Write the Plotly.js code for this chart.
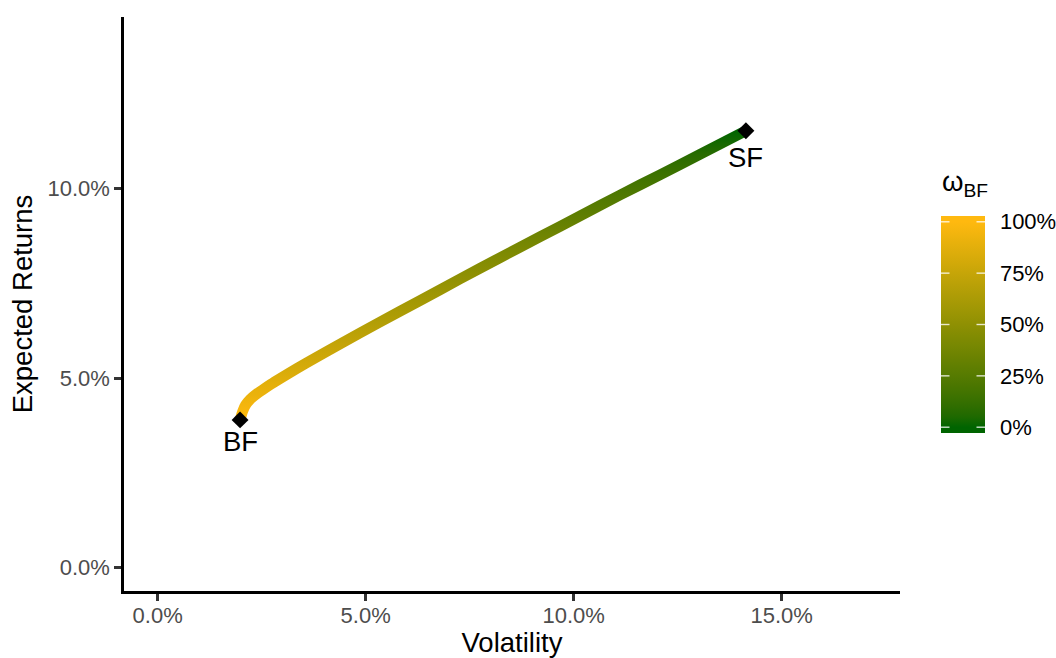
<!DOCTYPE html>
<html>
<head>
<meta charset="utf-8">
<script src="https://cdn.plot.ly/plotly-3.0.1.min.js"></script>
<style>
  html, body { margin: 0; padding: 0; background: #ffffff; }
  #chart { width: 1056px; height: 658px; }
</style>
</head>
<body>
<div id="chart"></div>
<script>
// Two-fund frontier: portfolios mixing the bond fund (BF) and the stock fund (SF)
const volatility     = [1.98, 2.04, 2.11, 2.22, 2.36, 2.53, 2.72, 2.94, 3.35, 3.78, 4.38,
                        5.34, 6.31, 7.27, 8.23, 9.19, 10.15, 11.11, 12.08, 13.04, 14.14]; // %
const expectedReturn = [3.90, 4.12, 4.29, 4.44, 4.57, 4.70, 4.84, 4.99, 5.26, 5.53, 5.90,
                        6.48, 7.05, 7.62, 8.18, 8.73, 9.28, 9.83, 10.37, 10.91, 11.53]; // %
const weightBF       = [1.00, 0.97, 0.95, 0.93, 0.91, 0.90, 0.88, 0.86, 0.82, 0.79, 0.74,
                        0.66, 0.59, 0.51, 0.44, 0.37, 0.29, 0.22, 0.15, 0.08, 0.00];

// The two funds themselves
const assets          = ['BF', 'SF'];
const assetVolatility = [1.98, 14.14];
const assetReturn     = [3.90, 11.53];

const xTickVals = [0, 5, 10, 15];
const yTickVals = [0, 5, 10];
const weightTickVals = [0, 0.25, 0.5, 0.75, 1];
const pct1 = v => v.toFixed(1) + '%';

// Colour ramp for the BF weight: dark green (0%) to golden orange (100%), blended in CIELAB
const LOW_RGB = [0, 100, 0];
const HIGH_RGB = [255, 185, 15];

function toLinear(c) { c /= 255; return c <= 0.04045 ? c / 12.92 : Math.pow((c + 0.055) / 1.055, 2.4); }
function fromLinear(c) {
  const v = c <= 0.0031308 ? 12.92 * c : 1.055 * Math.pow(c, 1 / 2.4) - 0.055;
  return Math.max(0, Math.min(255, Math.round(v * 255)));
}
const WN = [0.95047, 1.0, 1.08883];
function rgbToLab(rgb) {
  const [r, g, b] = rgb.map(toLinear);
  const xyz = [0.4124 * r + 0.3576 * g + 0.1805 * b,
               0.2126 * r + 0.7152 * g + 0.0722 * b,
               0.0193 * r + 0.1192 * g + 0.9505 * b];
  const f = xyz.map((t, i) => { t /= WN[i]; return t > 0.008856 ? Math.cbrt(t) : 7.787 * t + 16 / 116; });
  return [116 * f[1] - 16, 500 * (f[0] - f[1]), 200 * (f[1] - f[2])];
}
function labToRgb(lab) {
  const fy = (lab[0] + 16) / 116, fx = fy + lab[1] / 500, fz = fy - lab[2] / 200;
  const inv = t => (t * t * t > 0.008856 ? t * t * t : (t - 16 / 116) / 7.787);
  const X = inv(fx) * WN[0], Y = inv(fy) * WN[1], Z = inv(fz) * WN[2];
  const r = 3.2406 * X - 1.5372 * Y - 0.4986 * Z;
  const g = -0.9689 * X + 1.8758 * Y + 0.0415 * Z;
  const b = 0.0557 * X - 0.2040 * Y + 1.0570 * Z;
  return [fromLinear(r), fromLinear(g), fromLinear(b)];
}
const LOW_LAB = rgbToLab(LOW_RGB), HIGH_LAB = rgbToLab(HIGH_RGB);
function weightColor(w) {
  const t = Math.max(0, Math.min(1, w));
  const lab = LOW_LAB.map((v, i) => v + (HIGH_LAB[i] - v) * t);
  const c = labToRgb(lab);
  return 'rgb(' + c[0] + ',' + c[1] + ',' + c[2] + ')';
}

// Colour bar runs slightly past 0% and 100%, as the guide does
const CB_MIN = -0.0282, CB_MAX = 1.0282;
const cbPos = v => (v - CB_MIN) / (CB_MAX - CB_MIN);
const colorscale = [[0, weightColor(0)]];
for (let k = 0; k <= 20; k++) colorscale.push([cbPos(k / 20), weightColor(k / 20)]);
colorscale.push([1, weightColor(1)]);

// Page geometry (pixels)
const W = 1056, H = 658;
const M = { l: 124, r: 156, t: 17, b: 67 };
const CB = { left: 941, width: 44, top: 216, len: 217 };
const toPaperX = px => (px - M.l) / (W - M.l - M.r);
const toPaperY = py => (H - M.b - py) / (H - M.t - M.b);

const FONT = 'Liberation Sans, Arial, Helvetica, sans-serif';

const frontier = {
  type: 'scatter', mode: 'lines',
  x: volatility, y: expectedReturn,
  line: { width: 10.7, color: weightColor(0.5), shape: 'spline', smoothing: 0.6 },
  hoverinfo: 'skip', showlegend: false
};

const weightScale = {
  type: 'scatter', mode: 'markers',
  x: volatility, y: expectedReturn,
  marker: {
    size: 1, opacity: 0,
    color: weightBF, cmin: CB_MIN, cmax: CB_MAX, colorscale: colorscale,
    showscale: true,
    colorbar: {
      thickness: CB.width, thicknessmode: 'pixels',
      len: CB.len, lenmode: 'pixels',
      xref: 'container', x: CB.left / W, xanchor: 'left',
      yref: 'paper', y: toPaperY(CB.top + CB.len / 2), yanchor: 'middle',
      xpad: 0, ypad: 0,
      outlinewidth: 0,
      ticks: 'outside', ticklen: 11, tickwidth: 1, tickcolor: 'rgba(255,255,255,0)',
      tickvals: weightTickVals, ticktext: weightTickVals.map(v => Math.round(v * 100) + '%'),
      tickfont: { family: FONT, size: 22, color: '#000000' }
    }
  },
  hoverinfo: 'skip', showlegend: false
};

const fundPoints = {
  type: 'scatter', mode: 'markers',
  x: assetVolatility, y: assetReturn,
  marker: { symbol: 'diamond', size: 13, color: '#000000', line: { width: 0 } },
  hoverinfo: 'skip', showlegend: false
};

const labelShift = [-22, -27];
const annotations = assets.map((name, i) => ({
  x: assetVolatility[i], y: assetReturn[i], text: name,
  showarrow: false, xanchor: 'center', yanchor: 'middle', yshift: labelShift[i],
  font: { family: FONT, size: 27.5, color: '#000000' }
}));
// Legend title for the weight colour bar
annotations.push({
  xref: 'paper', yref: 'paper',
  x: toPaperX(CB.left - 1), y: toPaperY(CB.top - 13),
  xanchor: 'left', yanchor: 'bottom', showarrow: false,
  text: 'ω<sub>BF</sub>',
  font: { family: FONT, size: 27.5, color: '#000000' }
});

const axisCommon = {
  showgrid: false, zeroline: false,
  showline: true, linecolor: '#000000', linewidth: 2.7,
  ticks: 'outside', ticklen: 7, tickwidth: 2.7, tickcolor: '#333333',
  tickfont: { family: FONT, size: 22, color: '#4D4D4D' },
  automargin: false
};

const layout = {
  width: W, height: H,
  paper_bgcolor: '#ffffff', plot_bgcolor: '#ffffff',
  margin: M,
  font: { family: FONT },
  showlegend: false,
  xaxis: Object.assign({}, axisCommon, {
    range: [-0.81, 17.844],
    tickvals: xTickVals, ticktext: xTickVals.map(pct1),
    ticklabelstandoff: -4,
    title: { text: 'Volatility', standoff: 15, font: { family: FONT, size: 27.5, color: '#000000' } }
  }),
  yaxis: Object.assign({}, axisCommon, {
    range: [-0.615, 14.53],
    tickvals: yTickVals, ticktext: yTickVals.map(pct1),
    title: { text: 'Expected Returns', standoff: 7, font: { family: FONT, size: 27.5, color: '#000000' } }
  }),
  annotations: annotations
};

const ns = 'http://www.w3.org/2000/svg';
const gd = document.getElementById('chart');
Plotly.newPlot(gd, [frontier, weightScale, fundPoints], layout, { staticPlot: true, displayModeBar: false })
  .then(() => {
    // Paint the frontier with a gradient that follows the BF weight along the curve
    const ya = gd._fullLayout.yaxis;
    const svg = gd.querySelector('svg.main-svg');
    const defs = svg.querySelector('defs');
    const n = expectedReturn.length;
    const yStart = ya.l2p(expectedReturn[0]);
    const yEnd = ya.l2p(expectedReturn[n - 1]);
    const grad = document.createElementNS(ns, 'linearGradient');
    grad.setAttribute('id', 'frontier-weight');
    grad.setAttribute('gradientUnits', 'userSpaceOnUse');
    grad.setAttribute('x1', 0); grad.setAttribute('x2', 0);
    grad.setAttribute('y1', yStart); grad.setAttribute('y2', yEnd);
    for (let i = 0; i < n; i++) {
      const stop = document.createElementNS(ns, 'stop');
      stop.setAttribute('offset', (ya.l2p(expectedReturn[i]) - yStart) / (yEnd - yStart));
      stop.setAttribute('stop-color', weightColor(weightBF[i]));
      grad.appendChild(stop);
    }
    defs.appendChild(grad);
    const path = gd.querySelector('.scatterlayer .trace path.js-line');
    if (path) {
      path.style.stroke = 'url(#frontier-weight)';
      path.style.strokeLinejoin = 'round';
    }

    // White guide ticks on both edges of the colour bar
    const fill = gd.querySelector('.colorbar .cbfill');
    if (fill) {
      const box = fill.getBBox();
      const parent = fill.parentNode;
      const tf = fill.getAttribute('transform');
      weightTickVals.forEach(v => {
        const y = box.y + box.height * (1 - cbPos(v));
        [[box.x, box.x + 8.5], [box.x + box.width - 8.5, box.x + box.width]].forEach(([a, b]) => {
          const ln = document.createElementNS(ns, 'line');
          ln.setAttribute('x1', a); ln.setAttribute('x2', b);
          ln.setAttribute('y1', y); ln.setAttribute('y2', y);
          ln.setAttribute('stroke', 'rgba(255,255,255,0.8)');
          ln.setAttribute('stroke-width', 1.4);
          if (tf) ln.setAttribute('transform', tf);
          parent.appendChild(ln);
        });
      });
    }
  });
</script>
</body>
</html>
